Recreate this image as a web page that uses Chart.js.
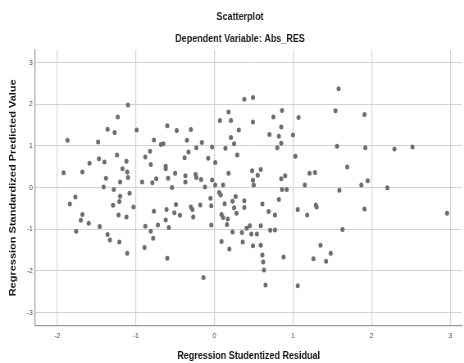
<!DOCTYPE html>
<html><head><meta charset="utf-8">
<script src="https://cdn.jsdelivr.net/npm/chart.js@4/dist/chart.umd.min.js"></script>
<style>
html,body{margin:0;padding:0;background:#fff;overflow:hidden;width:464px;height:363px}
#wrap{width:566px;height:363px;transform:scaleX(0.8198);transform-origin:0 0}
canvas{display:block}
</style></head>
<body><div id="wrap"><canvas id="c" width="566" height="363"></canvas></div>
<script>
const chartTitle = 'Scatterplot';
const chartSubtitle = 'Dependent Variable: Abs_RES';
const xAxisTitle = 'Regression Studentized Residual';
const yAxisTitle = 'Regression Standardized Predicted Value';
const xTicks = [-2, -1, 0, 1, 2, 3];
const yTicks = [-3, -2, -1, 0, 1, 2, 3];

const residual = [
-1.92,-1.87,-1.68,-1.59,-1.48,-1.47,-1.40,-1.38,-1.41,-1.36,
-1.27,-1.24,-1.23,-1.28,-1.20,-1.17,-1.12,-1.11,-1.10,-1.10,
-0.99,-0.92,-0.88,-0.82,-0.81,-0.77,-0.79,-0.74,-0.68,-0.65,
-0.60,-0.62,-0.62,-0.59,-0.54,-0.50,-0.48,-0.37,-0.37,-0.38,
-0.33,-0.35,-0.30,-0.24,-0.23,-0.23,-0.17,-0.16,-0.12,-0.08,
-0.03,-0.03,0.01,0.01,0.07,0.11,0.14,0.18,0.21,0.21,
0.18,0.25,0.29,0.31,0.38,0.49,0.49,0.48,0.59,0.55,
0.49,0.50,0.70,0.75,0.82,0.80,0.85,0.85,0.86,0.85,
0.90,0.86,0.92,1.00,1.03,1.07,1.15,1.21,1.58,1.54,
1.91,1.56,1.92,2.29,2.52,1.69,1.28,1.59,1.87,1.95,
2.20,-1.84,-1.77,-1.68,-1.70,-1.76,-1.60,-1.46,-1.20,-1.21,
-1.29,-1.08,-1.03,-1.22,-1.12,-1.36,-1.33,-1.21,-1.11,-0.77,
-0.88,-0.72,-0.81,-0.78,-0.89,-0.62,-0.61,-0.58,-0.51,-0.49,
-0.44,-0.30,-0.28,-0.27,-0.18,-0.05,-0.04,-0.04,-0.60,-0.14,
0.06,0.08,0.13,0.09,0.11,0.17,0.16,0.09,0.19,0.23,
0.23,0.27,0.25,0.28,0.38,0.38,0.35,0.36,0.41,0.45,
0.47,0.49,0.54,0.59,0.59,0.61,0.62,0.63,0.65,0.61,
0.69,0.71,0.77,0.77,0.82,0.88,1.06,1.18,1.06,1.29,
1.30,1.91,2.96,1.63,1.35,1.48,1.26,1.42
];
const predicted = [
0.35,1.13,0.37,0.58,1.09,0.69,0.61,0.22,0.01,1.40,
1.32,0.78,1.69,-0.05,0.13,0.45,0.63,0.37,0.24,1.98,
1.38,0.13,0.73,0.87,0.55,1.14,0.11,0.21,1.03,1.05,
1.48,0.51,0.45,0.22,0.00,0.34,1.37,0.28,0.13,0.71,
0.85,1.13,1.39,0.31,0.24,0.95,0.19,1.08,0.01,0.70,
0.97,0.18,0.60,0.06,1.61,0.06,0.94,1.81,1.61,1.20,
0.34,1.05,0.78,1.38,2.12,2.16,1.57,0.40,0.43,0.29,
0.17,0.06,1.27,1.69,1.23,0.95,1.06,1.45,1.85,0.21,
0.28,-0.05,-0.05,1.26,0.75,1.68,0.06,0.34,2.37,1.84,
1.75,0.99,0.95,0.92,0.97,0.49,0.36,-0.07,0.06,0.16,
-0.01,-0.40,-0.23,-0.65,-0.79,-1.05,-0.86,-0.94,-0.21,-0.34,
-0.43,-0.14,-0.47,-0.66,-0.71,-1.13,-1.26,-1.31,-1.58,-0.57,
-0.93,-0.90,-1.05,-1.22,-1.44,-0.78,-0.53,-0.96,-0.61,-0.41,
-0.67,-0.47,-0.53,-0.71,-0.42,-0.26,-0.44,-0.90,-1.70,-2.16,
-0.12,-0.18,-0.39,-0.65,-0.72,-0.76,-0.89,-1.30,-1.48,-1.07,
-0.33,-0.22,-0.49,-0.62,-0.32,-0.48,-1.08,-1.31,-0.98,-0.92,
-1.12,-1.40,-1.12,-0.92,-1.39,-1.62,-1.79,-1.98,-2.34,-0.40,
-0.58,-1.03,-1.02,-0.66,-0.29,-1.67,-0.53,-0.66,-2.36,-0.42,
-0.47,-0.52,-0.62,-1.01,-1.39,-1.58,-1.71,-1.77
];

const FONT = "'Liberation Sans', Arial, Helvetica, sans-serif";
const points = residual.map((x, i) => ({ x: x, y: predicted[i] }));

const headings = {
  id: 'headings',
  afterDraw(chart) {
    const ctx = chart.ctx;
    ctx.save();
    ctx.fillStyle = '#1a1a1a';
    ctx.textAlign = 'center';
    ctx.textBaseline = 'middle';
    ctx.font = 'bold 11px ' + FONT;
    ctx.fillText(chartTitle, 292.8, 17);
    ctx.fillText(chartSubtitle, 292.8, 39);
    ctx.restore();
  }
};

new Chart(document.getElementById('c'), {
  type: 'scatter',
  data: {
    datasets: [{
      data: points,
      backgroundColor: '#6e6e6e',
      borderWidth: 0,
      pointRadius: 2.5,
      pointHoverRadius: 2.5
    }]
  },
  options: {
    responsive: false,
    devicePixelRatio: 1,
    animation: false,
    layout: { padding: { top: 50, right: 0, bottom: 0, left: 0 } },
    plugins: { legend: { display: false }, tooltip: { enabled: false }, title: { display: false } },
    scales: {
      x: {
        type: 'linear', min: -2.28, max: 3.15,
        afterBuildTicks: s => { s.ticks = xTicks.map(v => ({ value: v })); },
        grid: { color: '#d3d3d3', lineWidth: 1.2, drawTicks: false },
        border: { color: '#9a9a9a', width: 1.2 },
        ticks: { padding: 5, color: '#444', font: { family: FONT, size: 8 }, callback: v => String(v) },
        title: { display: true, text: xAxisTitle, color: '#111', font: { family: FONT, size: 11, weight: 'bold' }, padding: { top: 0, bottom: 0 } },
        afterFit: s => { s.height = 37.3; }
      },
      y: {
        type: 'linear', min: -3.32, max: 3.3,
        afterBuildTicks: s => { s.ticks = yTicks.map(v => ({ value: v })); },
        grid: { color: '#d3d3d3', lineWidth: 1, drawTicks: false },
        border: { color: '#9a9a9a', width: 1.2 },
        ticks: { padding: 3, color: '#444', font: { family: FONT, size: 8 }, callback: v => String(v) },
        title: { display: true, text: yAxisTitle, color: '#111', font: { family: FONT, size: 11, weight: 'bold' }, padding: { top: 9.6, bottom: 0 } },
        afterFit: s => { s.width = 43; }
      }
    }
  },
  plugins: [headings]
});
</script>
</body></html>
